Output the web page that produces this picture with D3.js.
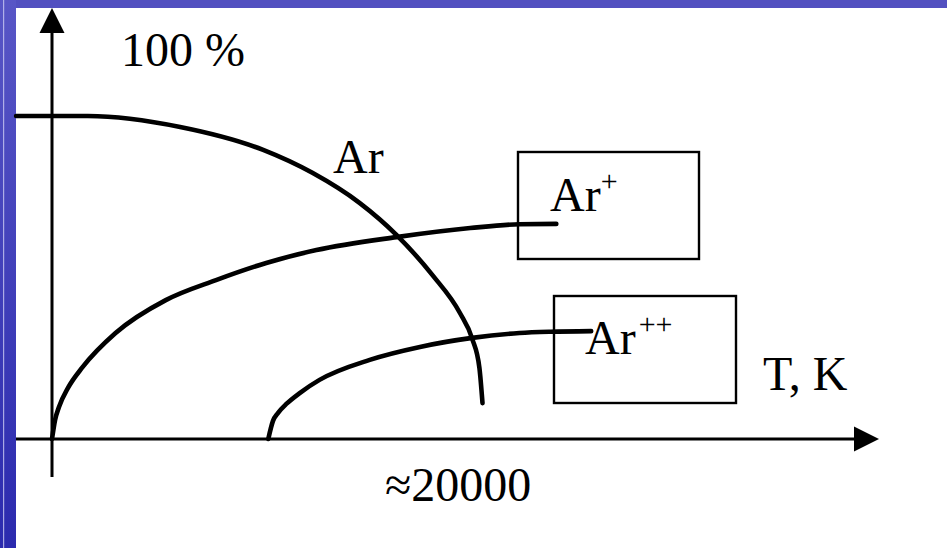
<!DOCTYPE html>
<html>
<head>
<meta charset="utf-8">
<script src="https://cdn.jsdelivr.net/npm/d3@7"></script>
<style>
  body { margin: 0; background: #fff; }
  text { font-family: "Liberation Serif", "Times New Roman", serif; fill: #000; }
</style>
</head>
<body>
<div id="chart"></div>
<script>
// Ionisation fractions of argon vs temperature
const arT   = [-1750, 1750, 6250, 10300, 12700, 15000, 16800, 18550, 19900, 20500, 20850, 21000];
const arPct = [100, 100, 96.6, 89.5, 82.4, 73.1, 63.2, 50.8, 39.0, 31.0, 22.0, 11.1];

const arPlusT   = [0, 150, 340, 780, 1500, 3100, 5550, 8000, 10450, 12900, 16800, 20400, 22800, 24600];
const arPlusPct = [0, 5.9, 9.9, 15.8, 22.3, 32.8, 43.0, 49.2, 54.5, 58.5, 62.5, 65.3, 66.5, 66.6];

const arPlusPlusT   = [10550, 10780, 11020, 11460, 12100, 13050, 15500, 17950, 20500, 22800, 24300, 26300];
const arPlusPlusPct = [0, 5.6, 8.0, 11.0, 14.3, 18.3, 24.5, 28.5, 31.3, 32.8, 33.2, 33.4];

const yLabel = "100 %";
const xLabel = "T, K";
const tickLabel = "\u224820000";

const width = 947, height = 548;

const svg = d3.select("#chart")
    .append("svg")
    .attr("width", width)
    .attr("height", height);

// slide frame (blue band on the left and top)
const defs = svg.append("defs");
const grad = defs.append("linearGradient")
    .attr("id", "band")
    .attr("x1", 0).attr("y1", 0).attr("x2", 0).attr("y2", 1);
grad.append("stop").attr("offset", "0%").attr("stop-color", "#5856c6");
grad.append("stop").attr("offset", "100%").attr("stop-color", "#2b2aae");

svg.append("rect").attr("x", 0).attr("y", 0).attr("width", width).attr("height", 8).attr("fill", "#5250c0");
svg.append("rect").attr("x", 0).attr("y", 0).attr("width", 16).attr("height", height).attr("fill", "url(#band)");
svg.append("rect").attr("x", 3).attr("y", 0).attr("width", 1.2).attr("height", height).attr("fill", "#c8c8f0").attr("opacity", 0.8);

const x = d3.scaleLinear().domain([0, 40000]).range([52, 872]);
const y = d3.scaleLinear().domain([0, 100]).range([439, 116]);

// axes
svg.append("line")
    .attr("x1", x(0)).attr("x2", x(0))
    .attr("y1", 477).attr("y2", 30)
    .attr("stroke", "#000").attr("stroke-width", 3);
svg.append("path")
    .attr("d", `M${x(0)},8 L${x(0) - 12.5},33 L${x(0) + 12.5},33 Z`)
    .attr("fill", "#000");

svg.append("line")
    .attr("x1", 16).attr("x2", 856)
    .attr("y1", y(0)).attr("y2", y(0))
    .attr("stroke", "#000").attr("stroke-width", 3);
svg.append("path")
    .attr("d", `M879,${y(0)} L854,${y(0) - 12.5} L854,${y(0) + 12.5} Z`)
    .attr("fill", "#000");

// label boxes
const boxes = [
    {x0: 518, y0: 152, x1: 699, y1: 259},
    {x0: 554, y0: 296, x1: 736, y1: 403}
];
svg.append("g")
    .selectAll("rect")
    .data(boxes)
    .join("rect")
    .attr("x", d => d.x0)
    .attr("y", d => d.y0)
    .attr("width", d => d.x1 - d.x0)
    .attr("height", d => d.y1 - d.y0)
    .attr("fill", "none")
    .attr("stroke", "#000")
    .attr("stroke-width", 2.4);

// curves
const line = d3.line()
    .x(d => x(d[0]))
    .y(d => y(d[1]))
    .curve(d3.curveMonotoneX);

const series = [
    d3.zip(arT, arPct),
    d3.zip(arPlusT, arPlusPct),
    d3.zip(arPlusPlusT, arPlusPlusPct)
];

svg.append("g")
    .selectAll("path")
    .data(series)
    .join("path")
    .attr("d", line)
    .attr("fill", "none")
    .attr("stroke", "#000")
    .attr("stroke-width", 4.6)
    .attr("stroke-linecap", "round")
    .attr("stroke-linejoin", "round");

// texts
const fs = 48;
svg.append("text").attr("x", 121).attr("y", 66).attr("font-size", fs).text(yLabel);
svg.append("text").attr("x", 333).attr("y", 173).attr("font-size", fs).text("Ar");

const t1 = svg.append("text").attr("x", 550).attr("y", 211).attr("font-size", fs);
t1.append("tspan").text("Ar");
t1.append("tspan").attr("font-size", 30).attr("dy", -20).text("+");

const t2 = svg.append("text").attr("x", 585).attr("y", 354).attr("font-size", fs);
t2.append("tspan").text("Ar");
t2.append("tspan").attr("font-size", 30).attr("dy", -20).attr("dx", 3).text("++");

svg.append("text").attr("x", 763).attr("y", 390).attr("font-size", fs).text(xLabel);
svg.append("text").attr("x", 385).attr("y", 501).attr("font-size", fs).text(tickLabel);
</script>
</body>
</html>
